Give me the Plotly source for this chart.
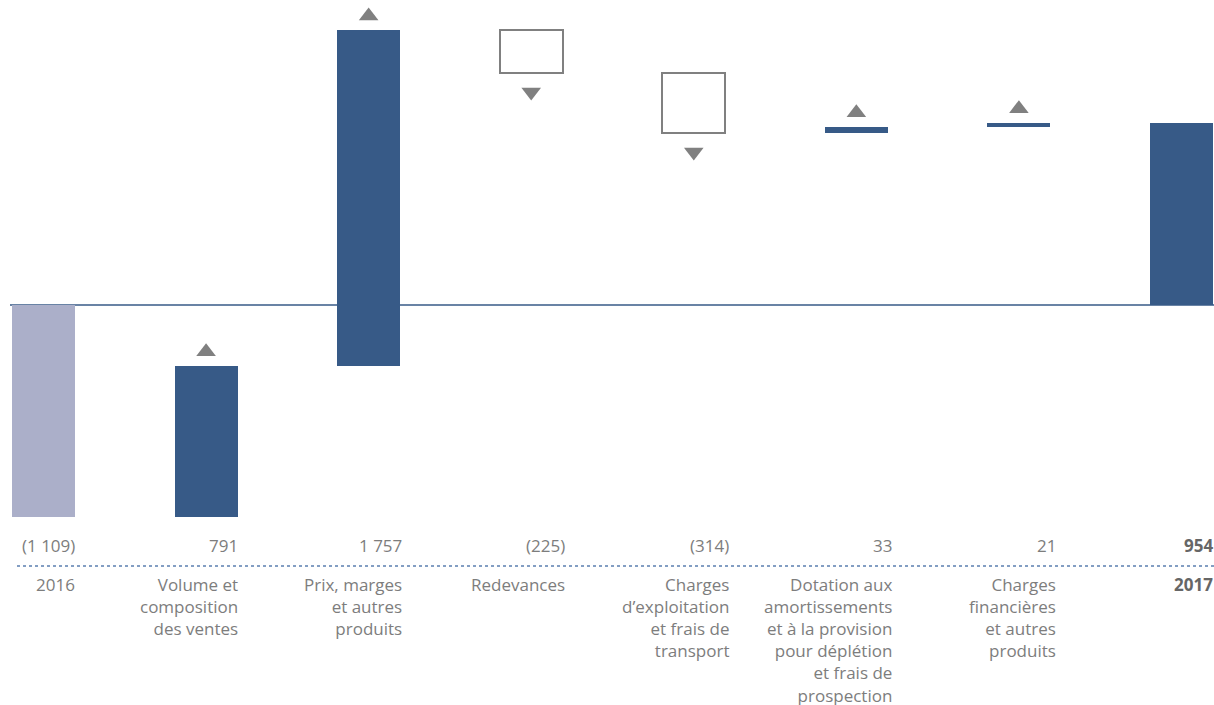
import plotly.graph_objects as go

categories = ["2016", "Volume et<br>composition<br>des ventes", "Prix, marges<br>et autres<br>produits",
              "Redevances", "Charges<br>d’exploitation<br>et frais de<br>transport",
              "Dotation aux<br>amortissements<br>et à la provision<br>pour déplétion<br>et frais de<br>prospection",
              "Charges<br>financières<br>et autres<br>produits", "<b>2017</b>"]
changes = [-1109, 791, 1757, -225, -314, 33, 21, 954]
value_labels = ["(1 109)", "791", "1 757", "(225)", "(314)", "33", "21", "<b>954</b>"]
kinds = ["start", "up", "up", "down", "down", "up", "up", "total"]

W, H = 1214, 705
px_per_unit = 212 / 1109
zero_px = 305
y_top = zero_px / px_per_unit
y_bot = -(H - zero_px) / px_per_unit
bar_w = 0.3875
x_min, x_max = -0.2676, 7.2

DARK = "#375A87"
LIGHT = "#ABAFC9"
GREY = "#808080"
TXT = "#7d7d7d"

# compute bases
bases, tops = [], []
running = 0
for k, c in zip(kinds, changes):
    if k == "start":
        bases.append(0); tops.append(c); running = c
    elif k == "total":
        bases.append(0); tops.append(c)
    else:
        bases.append(running); running += c; tops.append(running)

fig = go.Figure()
xs = list(range(len(changes)))
fill, line_c, line_w = [], [], []
for k in kinds:
    if k == "start":
        fill.append(LIGHT); line_c.append(LIGHT); line_w.append(0)
    elif k == "down":
        fill.append("white"); line_c.append(GREY); line_w.append(2)
    else:
        fill.append(DARK); line_c.append(DARK); line_w.append(0)

fig.add_trace(go.Bar(x=xs, y=[t - b for t, b in zip(tops, bases)], base=bases, width=bar_w,
                     marker=dict(color=fill, line=dict(color=line_c, width=line_w)),
                     hoverinfo="skip", showlegend=False))

up_off = 14 / px_per_unit
dn_off = 19 / px_per_unit
up_x = [i for i, k in enumerate(kinds) if k == "up"]
up_y = [max(tops[i], bases[i]) + up_off for i in up_x]
dn_x = [i for i, k in enumerate(kinds) if k == "down"]
dn_y = [min(tops[i], bases[i]) - dn_off for i in dn_x]
fig.add_trace(go.Scatter(x=up_x, y=up_y, mode="markers",
                         marker=dict(symbol="triangle-up", size=17, color=GREY), showlegend=False, hoverinfo="skip"))
fig.add_trace(go.Scatter(x=dn_x, y=dn_y, mode="markers",
                         marker=dict(symbol="triangle-down", size=17, color=GREY), showlegend=False, hoverinfo="skip"))

# zero line
fig.add_shape(type="line", xref="paper", yref="y", x0=10 / W, x1=1, y0=0, y1=0,
              line=dict(color=DARK, width=1.5), layer="below")
# dotted separator
fig.add_shape(type="line", xref="paper", yref="paper", x0=17 / W, x1=1, y0=1 - 566 / H, y1=1 - 566 / H,
              line=dict(color="#5b7fb0", width=1.5, dash="dot"))

for i in xs:
    xr = i + bar_w / 2
    bold = kinds[i] == "total"
    shift = min(1 + i * 0.9, 1)  if i == len(xs) - 1 else 1 + i * 0.9
    fig.add_annotation(x=xr, xref="x", y=1 - 545 / H, yref="paper", text=value_labels[i],
                       xanchor="right", yanchor="middle", showarrow=False, align="right",
                       borderpad=0, xshift=shift,
                       font=dict(family="Open Sans", size=17, color="#666" if bold else TXT))
    fig.add_annotation(x=xr, xref="x", y=1 - 572 / H, yref="paper", text=categories[i],
                       xanchor="right", yanchor="top", showarrow=False, align="right",
                       borderpad=0, xshift=shift,
                       font=dict(family="Open Sans", size=17, color="#666" if bold else TXT))

fig.update_layout(width=W, height=H, margin=dict(l=0, r=0, t=0, b=0),
                  paper_bgcolor="white", plot_bgcolor="white",
                  xaxis=dict(range=[x_min, x_max], visible=False, fixedrange=True),
                  yaxis=dict(range=[y_bot, y_top], visible=False, fixedrange=True),
                  bargap=0)
fig.write_html("out.html")
